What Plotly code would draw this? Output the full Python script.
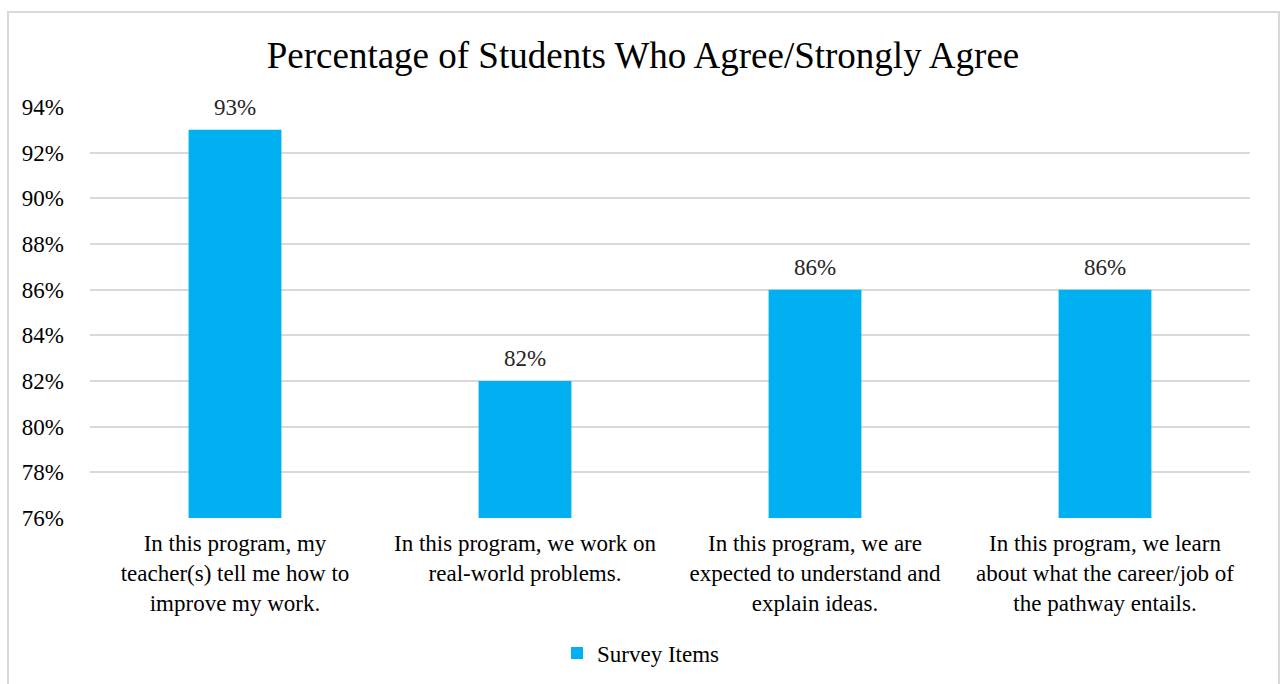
import plotly.graph_objects as go

categories = [
    "In this program, my<br>teacher(s) tell me how to<br>improve my work.",
    "In this program, we work on<br>real-world problems.",
    "In this program, we are<br>expected to understand and<br>explain ideas.",
    "In this program, we learn<br>about what the career/job of<br>the pathway entails.",
]
values = [93, 82, 86, 86]
series_name = "Survey Items"
y_ticks = [76, 78, 80, 82, 84, 86, 88, 90, 92, 94]

FONT = "Liberation Serif, Times New Roman, serif"
BLUE = "#00B0F0"
GRID = "#d9d9d9"

fig = go.Figure()
fig.add_trace(go.Bar(
    x=categories, y=values, name=series_name,
    marker=dict(color=BLUE, line=dict(width=0)),
    cliponaxis=False, showlegend=True,
))

# data labels above bars
for c, v in zip(categories, values):
    fig.add_annotation(x=c, y=v, xref="x", yref="y", text=f"{v}%",
                       showarrow=False, yanchor="bottom", yshift=8,
                       font=dict(family=FONT, size=23, color="#262626"))

fig.update_layout(
    width=1280, height=684,
    margin=dict(l=90, r=30, t=107, b=166),
    paper_bgcolor="white", plot_bgcolor="white",
    font=dict(family=FONT, size=23, color="#000000"),
    bargap=0.68,
    title=dict(text="Percentage of Students Who Agree/Strongly Agree",
               x=643 / 1280, xref="container",
               xanchor="center", y=1 - 55 / 684, yref="container", yanchor="middle",
               font=dict(family=FONT, size=37, color="#000000")),
    xaxis=dict(showgrid=False, showline=False, ticks="", ticklabelstandoff=9,
               tickfont=dict(family=FONT, size=23, color="#000000")),
    yaxis=dict(range=[76, 94], tickvals=y_ticks, ticktext=[f"{t}%" for t in y_ticks],
               showgrid=True, gridcolor=GRID, gridwidth=1.5, zeroline=False,
               showline=False, ticks="", ticklabelstandoff=25,
               tickfont=dict(family=FONT, size=23, color="#000000")),
    legend=dict(orientation="h", x=641 / 1280, xanchor="center", xref="container",
                y=1 - 653 / 684, yref="container", yanchor="middle",
                font=dict(family=FONT, size=23, color="#000000"),
                itemwidth=30),
)

# outer chart border
fig.add_shape(type="rect", xref="paper", yref="paper",
              x0=(8 - 90) / 1160, x1=(1279 - 90) / 1160,
              y0=-1.0, y1=(518 - 12) / 411,
              line=dict(color=GRID, width=2), fillcolor="rgba(0,0,0,0)", layer="below")

fig.write_html("out.html")
